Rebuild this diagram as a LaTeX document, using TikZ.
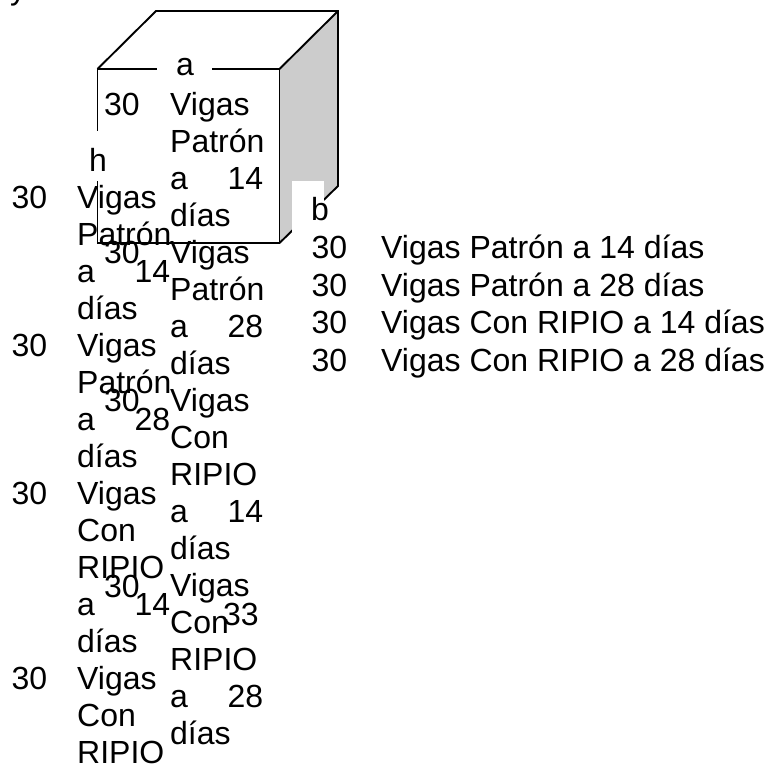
\documentclass[tikz,border=0pt]{standalone}
\usepackage{fontspec}
\setmainfont{Liberation Sans}
\usepackage{xcolor}
\usepackage{tikz}
\definecolor{faceGray}{HTML}{CCCCCC}
\newcommand{\spread}[2]{\makebox[93pt][l]{#1\hfill #2}}

\begin{document}
\begin{tikzpicture}[
    x=1pt, y=-1pt,
    edge/.style={draw=black, line width=1.9pt, line join=miter},
    word/.style={inner sep=0pt, anchor=base west, font=\fontsize{32}{37}\selectfont},
    block/.style={inner sep=0pt, anchor=north west, align=left, font=\fontsize{32}{37}\selectfont},
    listing/.style={inner sep=0pt, anchor=north west, align=left, font=\fontsize{32}{37.8}\selectfont}
]
    \useasboundingbox (0,0) rectangle (768,764);

    % box
    \fill[faceGray] (279.5,69) -- (338,11) -- (338,186) -- (279.5,243) -- cycle;
    \draw[edge] (97.5,243) -- (97.5,69) -- (279.5,69) -- (279.5,243) -- cycle;
    \draw[edge] (97.5,69) -- (156,11) -- (338,11) -- (338,186) -- (279.5,243);
    \draw[edge] (279.5,69) -- (338,11);

    % gaps under the labels
    \fill[white] (157,50) rectangle (212,88);
    \fill[white] (85,131) rectangle (112,181);
    \fill[white] (292,181) rectangle (324,232);

    \node[word] (cutY) at (10,-1) {y};
    \node[word] (labelA) at (176,75) {a};
    \node[word] (labelH) at (89,171) {h};
    \node[word] (labelB) at (311,220) {b};

    % column inside the box
    \node[word] (numA) at (104,115) {30};
    \node[word] (numB) at (104,263) {30};
    \node[word] (numC) at (104,411) {30};
    \node[word] (numD) at (104,597) {30};
    \node[block] (beamA) at (170,91.8) {Vigas \\ Patrón \\ \spread{a}{14} \\ días};
    \node[block] (beamB) at (170,239.8) {Vigas \\ Patrón \\ \spread{a}{28} \\ días};
    \node[block] (beamC) at (170,387.8) {Vigas \\ Con \\ RIPIO \\ \spread{a}{14} \\ días};
    \node[block] (beamD) at (170,572.8) {Vigas \\ Con \\ RIPIO \\ \spread{a}{28} \\ días};

    % column on the left
    \node[word] (numE) at (11.5,208) {30};
    \node[word] (numF) at (11.5,356) {30};
    \node[word] (numG) at (11.5,504) {30};
    \node[word] (numH) at (11.5,689) {30};
    \node[block] (beamE) at (77,184.8) {Vigas \\ Patrón \\ \spread{a}{14} \\ días};
    \node[block] (beamF) at (77,332.8) {Vigas \\ Patrón \\ \spread{a}{28} \\ días};
    \node[block] (beamG) at (77,480.8) {Vigas \\ Con \\ RIPIO \\ \spread{a}{14} \\ días};
    \node[block] (beamH) at (77,665.8) {Vigas \\ Con \\ RIPIO};

    \node[word] (total) at (223,625) {33};

    % list on the right
    \node[listing] (summary) at (311.5,234.6) {%
        \makebox[69.5pt][l]{30}Vigas Patrón a 14 días \\
        \makebox[69.5pt][l]{30}Vigas Patrón a 28 días \\
        \makebox[69.5pt][l]{30}Vigas Con RIPIO a 14 días \\
        \makebox[69.5pt][l]{30}Vigas Con RIPIO a 28 días};
\end{tikzpicture}
\end{document}
